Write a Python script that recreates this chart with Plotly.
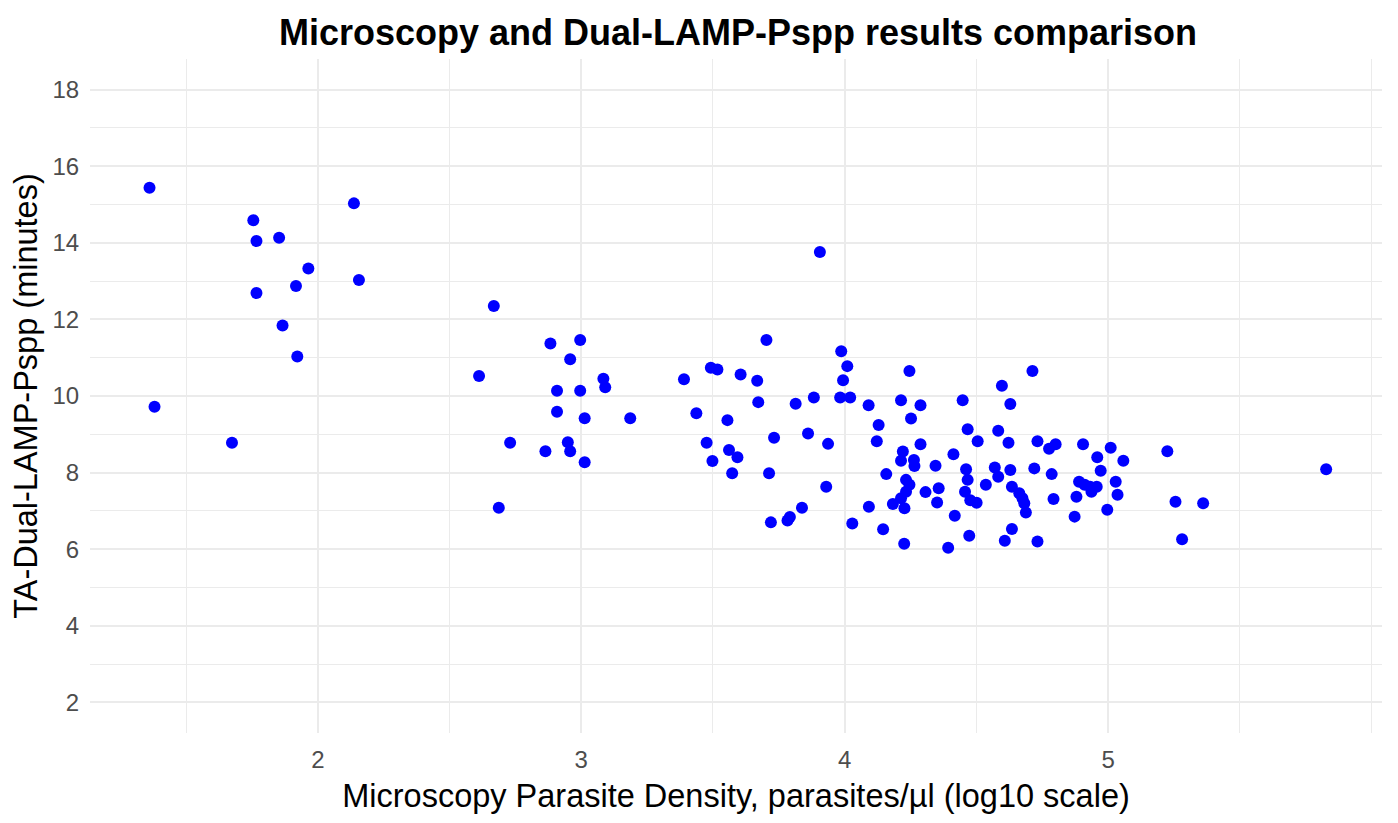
import plotly.graph_objects as go

# log10 microscopy parasite density
log_density = [
    1.361, 2.137, 1.755, 1.767, 1.853, 1.964, 2.156, 1.917, 1.767, 2.668,
    1.866, 1.922, 2.612, 1.380, 1.674, 2.730, 2.687,
    2.883, 2.996, 2.958, 3.084, 3.091, 2.908, 2.996, 2.908, 3.013, 3.186,
    2.949, 2.958, 2.864, 3.013,
    3.390, 3.492, 3.517, 3.605, 3.668, 3.703, 3.672, 3.437, 3.555, 3.814,
    3.883, 3.987, 4.010, 3.994, 3.983, 4.021, 3.476, 3.498, 3.561, 3.593,
    3.573, 3.732, 3.861, 3.937, 3.713, 3.930, 3.838, 3.720, 3.783, 3.792,
    4.029, 3.906,
    4.091, 4.129, 4.122, 4.246, 4.214, 4.288, 4.252, 4.288, 4.221, 4.214,
    4.263, 4.265, 4.158, 4.233, 4.246, 4.233, 4.214, 4.183, 4.227, 4.092,
    4.307, 4.357, 4.351, 4.345, 4.413, 4.146, 4.226, 4.418, 4.393, 4.473,
    4.448, 4.467, 4.505, 4.461, 4.467, 4.457, 4.477, 4.501, 4.536, 4.597,
    4.629, 4.583, 4.622, 4.570, 4.583, 4.629, 4.635, 4.663, 4.675, 4.682,
    4.688, 4.635, 4.608, 4.713, 4.732, 4.720, 4.732, 4.776, 4.801, 4.786,
    4.793,
    4.905, 5.010, 4.959, 5.058, 4.972, 4.890, 4.911, 4.937, 4.957, 4.932,
    5.029, 5.036, 4.880, 4.997, 4.873, 5.225, 5.256, 5.361, 5.281, 5.828,
]

# time to amplification (minutes)
ta_minutes = [
    15.44, 15.03, 14.59, 14.05, 14.13, 13.33, 13.03, 12.87, 12.69, 12.35,
    11.84, 11.03, 10.52, 9.72, 8.78, 8.78, 7.08,
    11.37, 11.46, 10.96, 10.45, 10.23, 10.14, 10.14, 9.59, 9.42, 9.42,
    8.79, 8.56, 8.56, 8.27,
    10.44, 10.74, 10.69, 10.56, 10.40, 11.46, 9.84, 9.55, 9.37, 9.80,
    9.96, 11.17, 10.78, 10.41, 9.96, 9.96, 8.78, 8.30, 8.59, 8.40,
    7.98, 8.91, 9.02, 8.75, 7.98, 7.63, 7.08, 6.70, 6.75, 6.84,
    6.67, 13.76,
    9.76, 9.24, 8.82, 10.65, 9.89, 9.76, 9.41, 8.74, 8.55, 8.31,
    8.33, 8.17, 7.96, 7.81, 7.68, 7.50, 7.33, 7.18, 7.07, 7.11,
    7.49, 7.59, 7.22, 8.18, 8.48, 6.52, 6.14, 6.87, 6.04, 6.35,
    9.89, 9.13, 8.82, 8.09, 7.81, 7.50, 7.28, 7.21, 7.68, 10.27,
    9.79, 9.09, 8.78, 8.13, 7.89, 8.07, 7.63, 7.46, 7.33, 7.20,
    6.96, 6.53, 6.22, 10.65, 8.82, 8.11, 6.20, 8.62, 8.74, 7.96,
    7.31,
    8.74, 8.65, 8.40, 8.31, 8.05, 7.76, 7.68, 7.50, 7.63, 7.63,
    7.76, 7.42, 7.37, 7.03, 6.85, 8.56, 7.24, 7.20, 6.26, 8.09,
]

x_ticks = [2, 3, 4, 5]
y_ticks = [2, 4, 6, 8, 10, 12, 14, 16, 18]

FONT = "Liberation Sans, Arial, sans-serif"
GRID = "#EBEBEB"
W, H = 1390, 815  # page body has an 8px margin

fig = go.Figure()
fig.add_trace(go.Scatter(
    x=log_density, y=ta_minutes, mode="markers",
    marker=dict(color="#0000FF", size=12, line=dict(width=0)),
    showlegend=False,
))

fig.update_layout(
    width=W, height=H,
    paper_bgcolor="white", plot_bgcolor="white",
    margin=dict(l=82, r=16, t=51, b=90, autoexpand=False),
    font=dict(family=FONT),
    title=dict(
        text="<b>Microscopy and Dual-LAMP-Pspp results comparison</b>",
        x=730 / W, xanchor="center", xref="container",
        y=1 - 12 / H, yanchor="top", yref="container",
        pad=dict(t=0, b=0),
        font=dict(size=36, color="black", family=FONT),
    ),
)

fig.update_xaxes(
    range=[1.135, 6.04],
    tickvals=x_ticks, ticktext=[str(v) for v in x_ticks],
    showgrid=True, gridcolor=GRID, gridwidth=1.6,
    minor=dict(dtick=0.5, tick0=1.5, showgrid=True, gridcolor=GRID, gridwidth=0.9),
    zeroline=False, showline=False,
    ticks="outside", ticklen=5, tickcolor="rgba(0,0,0,0)",
    tickfont=dict(size=24, color="#4D4D4D", family=FONT),
    title=dict(text="Microscopy Parasite Density, parasites/µl (log10 scale)",
               font=dict(size=32.5, color="black", family=FONT), standoff=12),
)

fig.update_yaxes(
    range=[1.2, 18.8],
    tickvals=y_ticks, ticktext=[str(v) for v in y_ticks],
    showgrid=True, gridcolor=GRID, gridwidth=1.6,
    minor=dict(dtick=2, tick0=3, showgrid=True, gridcolor=GRID, gridwidth=0.9),
    zeroline=False, showline=False,
    ticks="outside", ticklen=5, tickcolor="rgba(0,0,0,0)",
    tickfont=dict(size=24, color="#4D4D4D", family=FONT),
    title=dict(text="TA-Dual-LAMP-Pspp (minutes)",
               font=dict(size=32.5, color="black", family=FONT), standoff=6),
)

fig.write_html("out.html")
